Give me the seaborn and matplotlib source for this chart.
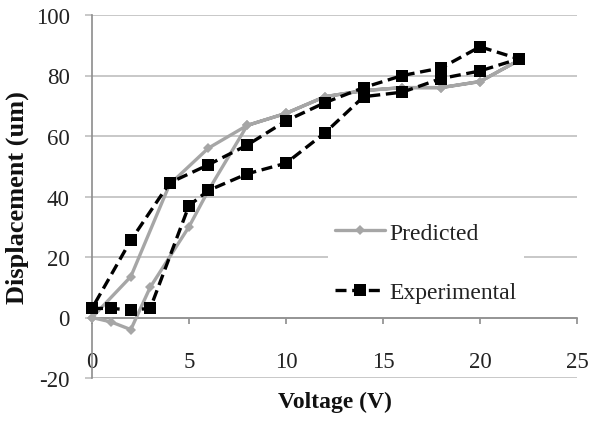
import matplotlib
matplotlib.use("Agg")
import matplotlib.pyplot as plt
import seaborn as sns
import pandas as pd

# ---- data ----
pred_voltage = [0, 1, 2, 3, 5, 6, 8, 10, 12, 14, 16, 18, 20, 22,
                20, 18, 16, 14, 12, 10, 8, 6, 4, 2, 0]
pred_disp = [0, -1.5, -4, 10, 30, 42, 63.5, 67.5, 73, 75, 76, 76, 78, 85,
             78, 76, 76, 75, 73, 67.5, 63.5, 56, 44, 13.5, 0]

exp_voltage = [0, 1, 2, 3, 5, 6, 8, 10, 12, 14, 16, 18, 20, 22,
               20, 18, 16, 14, 12, 10, 8, 6, 4, 2, 0]
exp_disp = [3, 3, 2.5, 3, 37, 42, 47.5, 51, 61, 73, 74.5, 79, 81.5, 85.5,
            89.5, 82.5, 80, 76, 71, 65, 57, 50.5, 44.5, 25.5, 3]

x_ticks = [0, 5, 10, 15, 20, 25]
y_ticks = [-20, 0, 20, 40, 60, 80, 100]
series_names = ["Predicted", "Experimental"]
x_label = "Voltage (V)"
y_label = "Displacement (um)"

sns.set_theme(style="white")
plt.rcParams["font.family"] = ["Liberation Serif", "DejaVu Serif"]

pred_df = pd.DataFrame({"v": pred_voltage, "d": pred_disp})
exp_df = pd.DataFrame({"v": exp_voltage, "d": exp_disp})

W, H = 602, 427
fig = plt.figure(figsize=(W / 100, H / 100), dpi=100)
ax = fig.add_axes([92 / W, 1 - 379 / H, (577 - 92) / W, (379 - 16) / H])

grid_c = "#BFBFBF"
axis_c = "#8C8C8C"

sns.lineplot(data=pred_df, x="v", y="d", sort=False, estimator=None, ax=ax,
             color="#A6A6A6", linewidth=2.4, marker="D", markersize=5.5,
             markeredgewidth=0, label=series_names[0], clip_on=False, zorder=3)
sns.lineplot(data=exp_df, x="v", y="d", sort=False, estimator=None, ax=ax,
             color="black", linewidth=2.4, linestyle=(0, (3.3, 1.7)),
             marker="s", markersize=9, markeredgewidth=0,
             label=series_names[1], clip_on=False, zorder=4)

ax.set_xlim(0, 25)
ax.set_ylim(-20, 100)
ax.set_xticks(x_ticks)
ax.set_yticks(y_ticks)
ax.set_xticklabels([str(t) for t in x_ticks])
ax.set_yticklabels([str(t) for t in y_ticks])

ax.yaxis.grid(True, color=grid_c, linewidth=1.2)
ax.xaxis.grid(False)
ax.set_axisbelow(True)

for s in ["top", "right"]:
    ax.spines[s].set_visible(False)
ax.spines["bottom"].set_position(("data", 0))
ax.spines["bottom"].set_color(axis_c)
ax.spines["left"].set_color(axis_c)
ax.spines["bottom"].set_linewidth(1.2)
ax.spines["left"].set_linewidth(1.2)

ax.tick_params(axis="x", direction="out", length=4, width=1.2, color=axis_c,
               pad=20, labelsize=16.5, labelcolor="#222222", bottom=True)
ax.tick_params(axis="y", direction="out", length=5, width=1.2, color=grid_c,
               pad=11, labelsize=16.5, labelcolor="#222222", left=True)

ax.set_xlabel(x_label, fontsize=17, fontweight="bold", color="#111111")
ax.set_ylabel(y_label, fontsize=19, fontweight="bold", color="#111111")
ax.xaxis.set_label_coords(0.5, -0.035)
ax.yaxis.set_label_coords(-0.13, 0.5)

leg = ax.legend(loc="upper left", bbox_to_anchor=(328 / W, 1 - 216 / H),
                bbox_transform=fig.transFigure, frameon=True, fancybox=False,
                facecolor="white", edgecolor="none", framealpha=1,
                fontsize=17, handlelength=2.1, handletextpad=0.2,
                labelspacing=1.6, borderpad=0.3, borderaxespad=0)
for t in leg.get_texts():
    t.set_color("#222222")

fig.savefig("out.png", dpi=100, facecolor="white")
